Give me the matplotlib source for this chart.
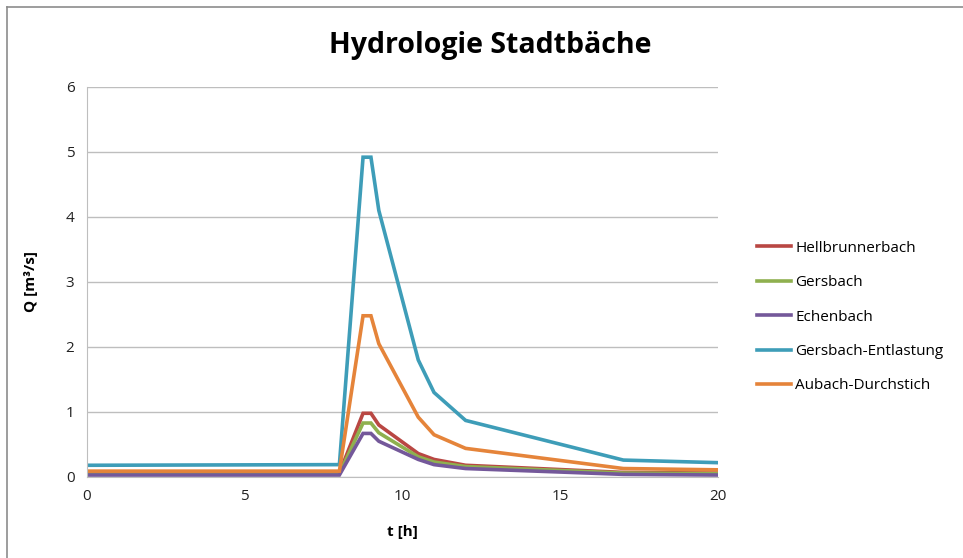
import numpy as np
import matplotlib.pyplot as plt
from matplotlib.lines import Line2D

# time axis [h]
t = [0, 8, 8.75, 9, 9.25, 10.5, 11, 12, 17, 20]

# discharge Q [m3/s]
hellbrunnerbach = [0.06, 0.06, 0.98, 0.98, 0.80, 0.36, 0.27, 0.18, 0.07, 0.06]
gersbach = [0.05, 0.05, 0.83, 0.83, 0.68, 0.31, 0.23, 0.16, 0.06, 0.05]
echenbach = [0.03, 0.03, 0.67, 0.67, 0.55, 0.27, 0.19, 0.13, 0.04, 0.03]
gersbach_entl = [0.18, 0.19, 4.92, 4.92, 4.10, 1.80, 1.30, 0.87, 0.26, 0.22]
aubach = [0.09, 0.09, 2.48, 2.48, 2.05, 0.92, 0.65, 0.44, 0.13, 0.11]

names = ["Hellbrunnerbach", "Gersbach", "Echenbach", "Gersbach-Entlastung", "Aubach-Durchstich"]
series = [hellbrunnerbach, gersbach, echenbach, gersbach_entl, aubach]
colors = ["#B94743", "#8FB04F", "#74589A", "#3E9DB8", "#E5843A"]

plt.rcParams['font.family'] = ['Open Sans', 'DejaVu Sans']

fig = plt.figure(figsize=(9.63, 5.58), dpi=100)
ax = fig.add_axes([0.0903, 0.1452, 0.6553, 0.6989])

for name, vals, c in zip(names, series, colors):
    ax.plot(t, vals, color=c, lw=2.6, label=name, solid_joinstyle='miter')

ax.set_xlim(0, 20)
ax.set_ylim(0, 6)
ax.set_xticks([0, 5, 10, 15, 20])
ax.set_yticks(range(0, 7))
ax.grid(axis='y', color='#BEBEBE', lw=1)
ax.set_axisbelow(True)
for s in ['top', 'right']:
    ax.spines[s].set_visible(False)
for s in ['left', 'bottom']:
    ax.spines[s].set_color('#BEBEBE')
ax.tick_params(length=0, labelsize=11, colors='#222222', pad=9)

ax.set_xlabel("t [h]", fontsize=11, fontweight='bold', labelpad=15)
ax.set_ylabel("Q [m³/s]", fontsize=11, fontweight='bold', labelpad=20)

fig.text(0.509, 0.918, "Hydrologie Stadtbäche", ha='center', va='center',
         fontsize=20.5, fontweight='bold')

leg = ax.legend(loc='center left', bbox_to_anchor=(1.04, 0.41), frameon=False,
                fontsize=11, handlelength=2.2, handletextpad=0.3, labelspacing=1.27)

# outer chart frame (only top and left visible in the crop)
fig.add_artist(Line2D([0.007, 0.007], [0.0, 0.987], color='#8C8C8C', lw=1.2))
fig.add_artist(Line2D([0.007, 1.0], [0.987, 0.987], color='#8C8C8C', lw=1.2))

plt.savefig("out.png", dpi=100)
